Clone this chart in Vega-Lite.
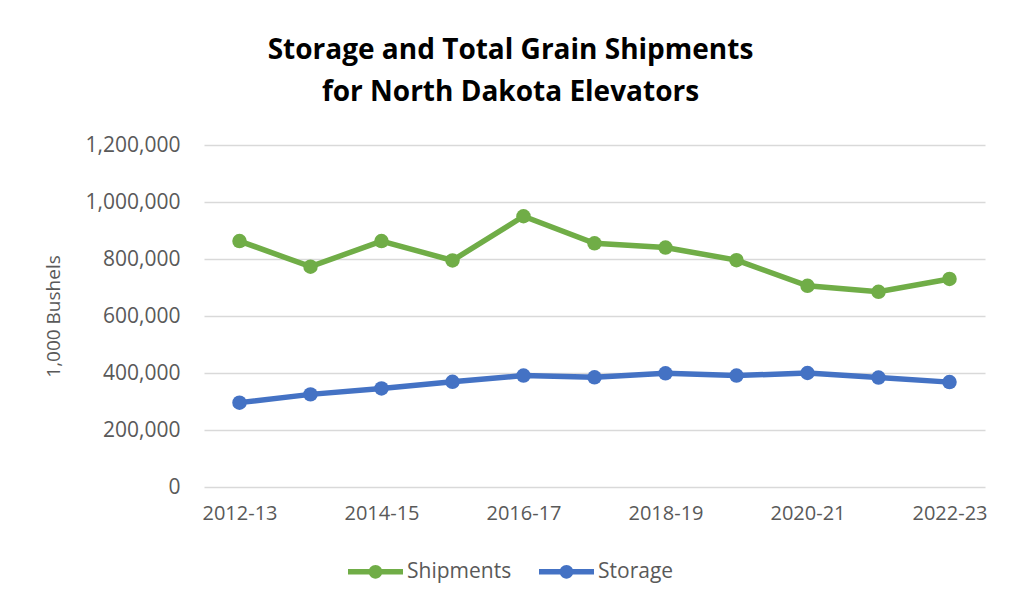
{
  "$schema": "https://vega.github.io/schema/vega-lite/v6.json",
  "autosize": "none",
  "width": 781,
  "height": 342,
  "padding": {"left": 204, "top": 145, "right": 33, "bottom": 127},
  "background": "white",
  "config": {
    "view": {"stroke": null},
    "font": "Open Sans"
  },
  "title": {
    "text": ["Storage and Total Grain Shipments", "for North Dakota Elevators"],
    "font": "Open Sans",
    "fontSize": 28,
    "fontWeight": "bold",
    "color": "#000000",
    "anchor": "middle",
    "frame": "group",
    "dx": -84,
    "offset": 27,
    "lineHeight": 42
  },
  "data": {
    "values": [
      {"year": "2012-13", "series": "Shipments", "value": 863000},
      {"year": "2013-14", "series": "Shipments", "value": 773000},
      {"year": "2014-15", "series": "Shipments", "value": 863000},
      {"year": "2015-16", "series": "Shipments", "value": 795000},
      {"year": "2016-17", "series": "Shipments", "value": 950000},
      {"year": "2017-18", "series": "Shipments", "value": 855000},
      {"year": "2018-19", "series": "Shipments", "value": 840000},
      {"year": "2019-20", "series": "Shipments", "value": 796000},
      {"year": "2020-21", "series": "Shipments", "value": 706000},
      {"year": "2021-22", "series": "Shipments", "value": 685000},
      {"year": "2022-23", "series": "Shipments", "value": 730000},
      {"year": "2012-13", "series": "Storage", "value": 296000},
      {"year": "2013-14", "series": "Storage", "value": 325000},
      {"year": "2014-15", "series": "Storage", "value": 346000},
      {"year": "2015-16", "series": "Storage", "value": 369000},
      {"year": "2016-17", "series": "Storage", "value": 391000},
      {"year": "2017-18", "series": "Storage", "value": 385000},
      {"year": "2018-19", "series": "Storage", "value": 399000},
      {"year": "2019-20", "series": "Storage", "value": 391000},
      {"year": "2020-21", "series": "Storage", "value": 400000},
      {"year": "2021-22", "series": "Storage", "value": 384000},
      {"year": "2022-23", "series": "Storage", "value": 368000}
    ]
  },
  "mark": {"type": "line", "strokeWidth": 5.5, "point": {"size": 210, "filled": true, "opacity": 1}},
  "encoding": {
    "x": {
      "field": "year",
      "type": "ordinal",
      "scale": {"type": "point", "padding": 0.5},
      "axis": {
        "title": null,
        "values": ["2012-13", "2014-15", "2016-17", "2018-19", "2020-21", "2022-23"],
        "labelAngle": 0,
        "labelFont": "Open Sans",
        "labelFontSize": 20,
        "labelColor": "#595959",
        "labelPadding": 16,
        "ticks": false,
        "domain": false,
        "grid": false
      }
    },
    "y": {
      "field": "value",
      "type": "quantitative",
      "scale": {"domain": [0, 1200000], "nice": false},
      "axis": {
        "title": "1,000 Bushels",
        "titleFont": "Open Sans",
        "titleFontSize": 19,
        "titleFontWeight": "normal",
        "titleColor": "#595959",
        "titlePadding": 22,
        "values": [0, 200000, 400000, 600000, 800000, 1000000, 1200000],
        "format": ",d",
        "labelFont": "Open Sans",
        "labelFontSize": 21,
        "labelColor": "#595959",
        "labelPadding": 24,
        "ticks": false,
        "domain": false,
        "grid": true,
        "gridColor": "#d9d9d9",
        "gridWidth": 1.5
      }
    },
    "color": {
      "field": "series",
      "type": "nominal",
      "scale": {"domain": ["Shipments", "Storage"], "range": ["#70AD47", "#4472C4"]},
      "legend": {
        "title": null,
        "orient": "none",
        "direction": "horizontal",
        "legendX": 144,
        "legendY": 399,
        "labelFont": "Open Sans",
        "labelFontSize": 21,
        "labelColor": "#595959",
        "symbolType": "M -1 -0.1 H 1 V 0.1 H -1 Z M 0.25 0 A 0.25 0.25 0 1 1 -0.25 0 A 0.25 0.25 0 1 1 0.25 0 Z",
        "symbolSize": 3025,
        "symbolStrokeWidth": 0,
        "symbolOpacity": 1,
        "columnPadding": 27,
        "labelOffset": 4
      }
    }
  }
}
